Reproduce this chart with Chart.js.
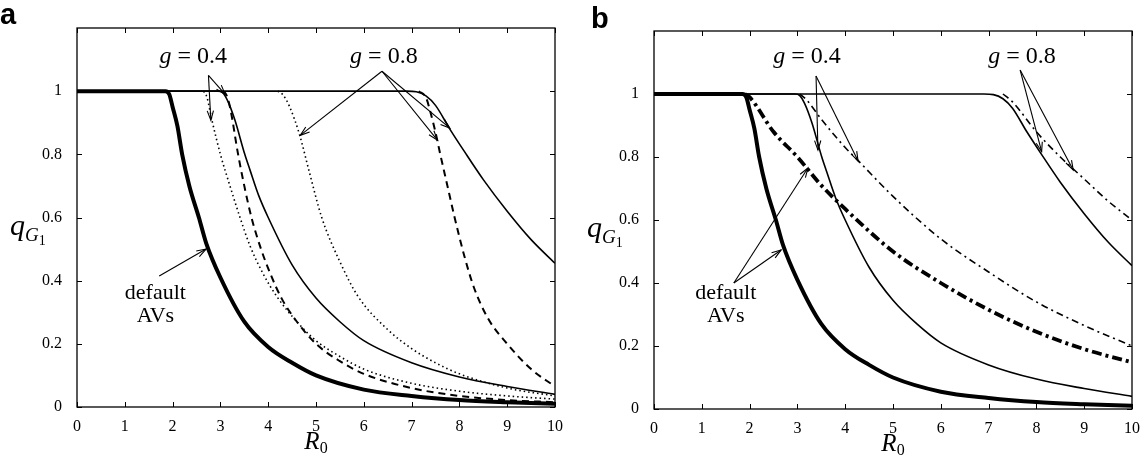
<!DOCTYPE html>
<html>
<head>
<meta charset="utf-8">
<script src="https://cdn.jsdelivr.net/npm/chart.js@4.4.1/dist/chart.umd.min.js"></script>
<style>
  body { margin: 0; background: #fff; }
  .wrap { position: relative; width: 1147px; height: 456px; }
  canvas { position: absolute; top: 0; }
</style>
</head>
<body>
<div class="wrap">
  <canvas id="chartA" width="573" height="456" style="left:0"></canvas>
  <canvas id="chartB" width="574" height="456" style="left:573px"></canvas>
</div>
<script>
// tick values
const xTicks = [0, 1, 2, 3, 4, 5, 6, 7, 8, 9, 10];
const yTicks = [0, 0.2, 0.4, 0.6, 0.8, 1];

// default AVs (thick solid, both panels)
const defaultR0 = [0, 1.85, 1.93, 2.0, 2.1, 2.2, 2.35, 2.55, 2.7, 3.0, 3.5, 4.0, 4.5, 5, 6, 7, 8, 9, 10];
const defaultQ  = [1, 1, 0.99, 0.95, 0.89, 0.8, 0.7, 0.6, 0.52, 0.41, 0.27, 0.19, 0.14, 0.1, 0.055, 0.035, 0.022, 0.015, 0.01];

// g = 0.4, thin solid (both panels)
const g4SolidR0 = [0, 2.95, 3.05, 3.15, 3.3, 3.51, 3.62, 3.8, 4.0, 4.5, 5.0, 5.5, 6, 7, 8, 9, 10];
const g4SolidQ  = [1, 1, 0.995, 0.97, 0.91, 0.8, 0.75, 0.67, 0.6, 0.45, 0.345, 0.27, 0.21, 0.14, 0.095, 0.065, 0.04];

// g = 0.8, thin solid (both panels)
const g8SolidR0 = [0, 6.9, 7.1, 7.3, 7.5, 7.8, 8.1, 8.5, 9, 9.5, 10];
const g8SolidQ  = [1, 1, 0.998, 0.985, 0.955, 0.88, 0.81, 0.72, 0.62, 0.53, 0.455];

// panel a: dashed and dotted variants
const g4DashR0 = [3.05, 3.12, 3.2, 3.37, 3.5, 3.65, 3.85, 4.05, 4.28, 4.6, 5.0, 5.5, 6, 7, 8, 9, 10];
const g4DashQ  = [1, 0.99, 0.95, 0.8, 0.7, 0.6, 0.5, 0.42, 0.344, 0.27, 0.2, 0.145, 0.105, 0.06, 0.035, 0.022, 0.015];

const g4DotR0 = [2.65, 2.72, 2.82, 3.0, 3.2, 3.41, 3.62, 3.9, 4.18, 4.6, 5.0, 5.5, 6, 7, 8, 9, 10];
const g4DotQ  = [1, 0.98, 0.91, 0.8, 0.7, 0.6, 0.51, 0.42, 0.35, 0.27, 0.21, 0.16, 0.12, 0.075, 0.05, 0.035, 0.025];

const g8DashR0 = [7.15, 7.3, 7.4, 7.5, 7.6, 7.75, 7.9, 8.1, 8.3, 8.6, 9.0, 9.5, 10];
const g8DashQ  = [1, 0.98, 0.93, 0.87, 0.8, 0.7, 0.6, 0.48, 0.38, 0.28, 0.2, 0.12, 0.065];

const g8DotR0 = [4.2, 4.3, 4.45, 4.66, 4.85, 5.12, 5.5, 5.88, 6.5, 7, 7.5, 8, 9, 10];
const g8DotQ  = [1, 0.99, 0.95, 0.86, 0.75, 0.6, 0.46, 0.35, 0.245, 0.185, 0.14, 0.105, 0.06, 0.035];

// panel b: dash-dot variants
const defaultDashDotR0 = [1.9, 2.0, 2.5, 3.0, 3.5, 4.0, 5, 6, 7, 8, 9, 10];
const defaultDashDotQ  = [1, 0.99, 0.88, 0.8, 0.71, 0.635, 0.5, 0.4, 0.315, 0.245, 0.19, 0.148];

const g4DashDotR0 = [3.05, 3.2, 3.5, 4.0, 4.23, 5, 6, 7, 8, 9, 10];
const g4DashDotQ  = [1, 0.98, 0.92, 0.83, 0.795, 0.675, 0.54, 0.435, 0.34, 0.265, 0.2];

const g8DashDotR0 = [7.3, 7.5, 8, 8.5, 8.75, 9, 9.5, 10];
const g8DashDotQ  = [1, 0.975, 0.88, 0.8, 0.765, 0.73, 0.66, 0.6];

// annotations (data coordinates)
const notesA = [
  { eq: '0.4', at: [2.43, 1.108], from: [2.75, 1.05], tips: [[2.80, 0.908], [3.10, 0.99]] },
  { eq: '0.8', at: [6.42, 1.108], from: [6.38, 1.063], tips: [[4.67, 0.86], [7.54, 0.845], [7.8, 0.883]] },
  { lines: ['default', 'AVs'], at: [1.64, 0.36], from: [1.72, 0.415], tips: [[2.70, 0.5]] }
];
const notesB = [
  { eq: '0.4', at: [3.2, 1.117], from: [3.39, 1.057], tips: [[3.43, 0.822], [4.27, 0.787]] },
  { eq: '0.8', at: [7.7, 1.117], from: [7.66, 1.076], tips: [[8.11, 0.817], [8.77, 0.759]] },
  { lines: ['default', 'AVs'], at: [1.5, 0.368], from: [1.67, 0.4], tips: [[2.66, 0.505], [3.22, 0.765]] }
];

const SERIF = '"Liberation Serif", "DejaVu Serif", serif';

function pts(xs, ys) {
  return xs.map((x, i) => ({ x: x, y: ys[i] }));
}

function line(xs, ys, width, dash) {
  return {
    data: pts(xs, ys),
    borderColor: '#000',
    borderWidth: width,
    borderDash: dash || [],
    pointRadius: 0,
    fill: false,
    cubicInterpolationMode: 'monotone'
  };
}

function drawArrow(ctx, x1, y1, x2, y2) {
  ctx.beginPath();
  ctx.moveTo(x1, y1);
  ctx.lineTo(x2, y2);
  ctx.stroke();
  const ang = Math.atan2(y2 - y1, x2 - x1), h = 10, s = 0.32;
  ctx.beginPath();
  ctx.moveTo(x2 - h * Math.cos(ang - s), y2 - h * Math.sin(ang - s));
  ctx.lineTo(x2, y2);
  ctx.lineTo(x2 - h * Math.cos(ang + s), y2 - h * Math.sin(ang + s));
  ctx.stroke();
}

// draw a row of [text, font, dy] pieces centred on cx
function drawPieces(ctx, pieces, cx, y, align) {
  let w = 0;
  pieces.forEach(p => { ctx.font = p[1]; w += ctx.measureText(p[0]).width; });
  let px = align === 'left' ? cx : cx - w / 2;
  pieces.forEach(p => {
    ctx.font = p[1];
    ctx.fillText(p[0], px, y + (p[2] || 0));
    px += ctx.measureText(p[0]).width;
  });
}

const decorPlugin = {
  id: 'decor',
  afterDatasetsDraw(chart, args, opts) {
    const { ctx, chartArea: a, scales: { x, y } } = chart;
    ctx.save();
    ctx.strokeStyle = '#000';
    ctx.fillStyle = '#000';

    // frame + inward ticks on every side
    ctx.lineWidth = 1.3;
    ctx.strokeRect(a.left, a.top, a.right - a.left, a.bottom - a.top);
    ctx.lineWidth = 1;
    ctx.beginPath();
    xTicks.forEach(v => {
      const px = Math.round(x.getPixelForValue(v)) + 0.5;
      ctx.moveTo(px, a.bottom); ctx.lineTo(px, a.bottom - 5);
      ctx.moveTo(px, a.top); ctx.lineTo(px, a.top + 5);
    });
    yTicks.forEach(v => {
      const py = Math.round(y.getPixelForValue(v)) + 0.5;
      ctx.moveTo(a.left, py); ctx.lineTo(a.left + 5, py);
      ctx.moveTo(a.right, py); ctx.lineTo(a.right - 5, py);
    });
    ctx.stroke();

    // annotations
    ctx.lineWidth = 1.1;
    ctx.textBaseline = 'middle';
    opts.notes.forEach(n => {
      const tx = x.getPixelForValue(n.at[0]), ty = y.getPixelForValue(n.at[1]);
      if (n.eq) {
        drawPieces(ctx, [
          ['g', 'italic 24px ' + SERIF],
          [' = ' + n.eq, '24px ' + SERIF]
        ], tx, ty);
      } else {
        n.lines.forEach((t, i) => drawPieces(ctx, [[t, '22px ' + SERIF]], tx, ty + i * 23));
      }
      const fx = x.getPixelForValue(n.from[0]), fy = y.getPixelForValue(n.from[1]);
      n.tips.forEach(t => drawArrow(ctx, fx, fy, x.getPixelForValue(t[0]), y.getPixelForValue(t[1])));
    });

    // axis titles with subscripts
    ctx.textBaseline = 'alphabetic';
    const midY = (a.top + a.bottom) / 2;
    drawPieces(ctx, [
      ['q', 'italic 30px ' + SERIF],
      ['G', 'italic 19px ' + SERIF, 6],
      ['1', '14px ' + SERIF, 10]
    ], a.left - 67, midY + 17, 'left');
    drawPieces(ctx, [
      ['R', 'italic 25px ' + SERIF],
      ['0', '16px ' + SERIF, 4]
    ], (a.left + a.right) / 2, a.bottom + 42);

    // panel letter
    ctx.font = 'bold 29px "Liberation Sans", Arial, sans-serif';
    ctx.fillText(opts.letter, opts.letterX, opts.letterY);
    ctx.restore();
  }
};

function makeChart(id, datasets, notes, letter, letterX, letterY, pad, yWidth, xHeight) {
  return new Chart(document.getElementById(id), {
    type: 'line',
    data: { datasets: datasets },
    options: {
      responsive: false,
      animation: false,
      devicePixelRatio: 1,
      layout: { padding: { left: 0, right: pad.right, top: pad.top, bottom: 0 } },
      scales: {
        x: {
          type: 'linear',
          min: 0, max: 10,
          afterBuildTicks: s => { s.ticks = xTicks.map(v => ({ value: v })); },
          afterFit: s => { s.height = xHeight; },
          grid: { display: false },
          border: { display: false },
          ticks: {
            color: '#000', padding: 2, maxRotation: 0,
            font: { family: SERIF, size: 16 },
            callback: v => String(v)
          }
        },
        y: {
          type: 'linear',
          min: 0, max: 1.2,
          afterBuildTicks: s => { s.ticks = yTicks.map(v => ({ value: v })); },
          afterFit: s => { s.width = yWidth; },
          grid: { display: false },
          border: { display: false },
          ticks: {
            color: '#000', padding: 7,
            font: { family: SERIF, size: 16 },
            callback: v => String(Math.round(v * 10) / 10)
          }
        }
      },
      plugins: {
        legend: { display: false },
        tooltip: { enabled: false },
        decor: { notes: notes, letter: letter, letterX: letterX, letterY: letterY }
      }
    },
    plugins: [decorPlugin]
  });
}

makeChart('chartA', [
  line(defaultR0, defaultQ, 4),
  line(g4SolidR0, g4SolidQ, 1.6),
  line(g8SolidR0, g8SolidQ, 1.6),
  line(g4DashR0, g4DashQ, 2, [7, 5]),
  line(g8DashR0, g8DashQ, 2, [7, 5]),
  line(g4DotR0, g4DotQ, 1.6, [1.5, 3]),
  line(g8DotR0, g8DotQ, 1.6, [1.5, 3])
], notesA, 'a', 0, 24, { right: 18, top: 28 }, 77, 49);

makeChart('chartB', [
  line(defaultR0, defaultQ, 4),
  line(defaultDashDotR0, defaultDashDotQ, 3.8, [10, 4, 3, 4]),
  line(g4SolidR0, g4SolidQ, 1.6),
  line(g8SolidR0, g8SolidQ, 1.6),
  line(g4DashDotR0, g4DashDotQ, 1.6, [7, 4, 2, 4]),
  line(g8DashDotR0, g8DashDotQ, 1.6, [7, 4, 2, 4])
], notesB, 'b', 18, 28, { right: 15, top: 31 }, 81, 47);
</script>
</body>
</html>
